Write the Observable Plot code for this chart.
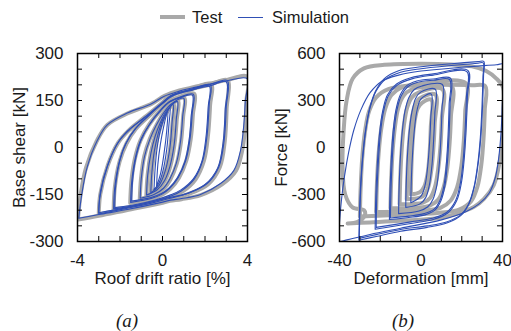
<!DOCTYPE html>
<html><head><meta charset="utf-8">
<script src="https://cdn.jsdelivr.net/npm/d3@7"></script>
<script src="https://cdn.jsdelivr.net/npm/@observablehq/plot@0.6"></script>
<style>
body{margin:0;background:#fff;font-family:"Liberation Sans",Arial,sans-serif;}
#wrap{position:relative;width:511px;height:331px;overflow:hidden;background:#fff;}
.abs{position:absolute;}
.lg{font-size:16.5px;line-height:18px;color:#1a1a1a;white-space:nowrap;}
.cap{font-family:"Liberation Serif","Times New Roman",serif;font-style:italic;font-size:19px;line-height:22px;color:#1a1a1a;text-align:center;width:40px;}
</style></head>
<body>
<div id="wrap">
  <div class="abs" style="left:160px;top:15px;width:25px;height:4px;background:#a9a9a9"></div>
  <div class="abs lg" style="left:192px;top:8px">Test</div>
  <div class="abs" style="left:238px;top:16.5px;width:25px;height:1.3px;background:#2f4fb5"></div>
  <div class="abs lg" style="left:272px;top:8px">Simulation</div>
  <div class="abs" id="pa" style="left:0;top:30px"></div>
  <div class="abs" id="pb" style="left:256px;top:30px"></div>
  <div class="abs cap" style="left:107px;top:310px">(a)</div>
  <div class="abs cap" style="left:383px;top:310px">(b)</div>
</div>
<script>
// ---------- Panel (a): roof drift ratio [%] vs base shear [kN] ----------
const xTicksA = [-4, 0, 4];
const yTicksA = [-300, -150, 0, 150, 300];
const xMinorA = [-4, -3, -2, -1, 0, 1, 2, 3, 4];
const yMinorA = [-300, -250, -200, -150, -100, -50, 0, 50, 100, 150, 200, 250, 300];

// each loop: flat list of (drift, shear) pairs
const simA = [
  [-3.94,-226, -3.8,-150, -3.54,-62, -3.07,22, -2.6,72, -1.66,110, -0.56,138, 0.06,163, 0.8,180, 1.46,191, 3.0,212, 3.98,220,
   3.9,150, 3.83,75, 3.67,-10, 3.36,-73, 2.73,-115, 1.79,-150, 0.9,-163, 0.38,-168, -0.1,-176, -1.66,-198, -3.0,-214, -3.94,-226],
  [-3.0,-212, -2.95,-160, -2.6,-62, -2.13,12, -1.66,52, -0.88,94, -0.1,138, 0.38,165, 1.46,188, 2.2,200, 3.05,214,
   3.0,130, 2.9,22, 2.65,-62, 2.1,-115, 1.16,-147, 0.38,-162, -0.42,-176, -1.66,-194, -3.0,-212],
  [-3.0,-208, -2.92,-140, -2.55,-50, -2.05,20, -1.5,60, -0.8,98, 0,140, 0.45,166, 1.5,186, 2.3,198, 3.0,210,
   2.95,120, 2.85,15, 2.6,-65, 2.0,-118, 1.1,-148, 0.3,-160, -0.5,-174, -1.7,-192, -3.0,-208],
  [-2.3,-196, -2.25,-130, -2.05,-50, -1.75,10, -1.3,58, -0.6,105, 0.1,148, 0.5,168, 1.3,184, 2.25,200,
   2.2,140, 2.1,40, 1.9,-40, 1.5,-100, 0.9,-138, 0.4,-155, -0.3,-170, -1.2,-184, -2.3,-196],
  [-2.25,-192, -2.2,-120, -2.0,-40, -1.7,15, -1.25,62, -0.55,108, 0.15,150, 0.6,168, 1.4,183, 2.2,196,
   2.15,130, 2.05,35, 1.85,-45, 1.45,-100, 0.85,-136, 0.35,-152, -0.35,-168, -1.25,-182, -2.25,-192],
  [-1.5,-175, -1.45,-110, -1.3,-40, -1.05,20, -0.65,70, -0.15,115, 0.3,145, 0.8,160, 1.45,170,
   1.4,110, 1.3,30, 1.1,-40, 0.75,-95, 0.35,-130, 0,-148, -0.5,-162, -1.5,-175],
  [-1.45,-171, -1.4,-100, -1.25,-32, -1.0,25, -0.6,74, -0.1,117, 0.35,146, 0.85,160, 1.4,167,
   1.35,100, 1.25,22, 1.05,-45, 0.7,-97, 0.3,-130, -0.05,-147, -0.55,-160, -1.45,-171],
  [-1.05,-162, -1.0,-100, -0.85,-30, -0.6,25, -0.3,70, 0.05,110, 0.4,138, 1.0,157,
   0.95,100, 0.85,20, 0.65,-50, 0.35,-100, 0.05,-130, -0.4,-150, -1.05,-162],
  [-0.75,-152, -0.7,-90, -0.55,-20, -0.35,35, -0.1,80, 0.2,118, 0.7,147,
   0.65,90, 0.55,10, 0.35,-60, 0.1,-105, -0.25,-135, -0.75,-152],
  [-0.55,-145, -0.5,-80, -0.38,-10, -0.2,45, 0.05,95, 0.5,137,
   0.45,80, 0.35,0, 0.15,-70, -0.15,-120, -0.55,-145],
  [-0.4,-135, -0.35,-70, -0.25,0, -0.08,60, 0.12,100, 0.35,128,
   0.3,70, 0.2,-5, 0.02,-75, -0.18,-115, -0.4,-135],
  [-0.28,-125, -0.22,-55, -0.1,10, 0.05,65, 0.25,118,
   0.2,55, 0.08,-15, -0.08,-80, -0.28,-125]
];
const testA = [
  [-3.98,-230, -3.85,-150, -3.6,-65, -3.1,20, -2.6,72, -1.6,110, -0.5,140, 0.1,165, 0.8,182, 1.5,193, 3.0,215, 4.0,226,
   3.95,150, 3.9,75, 3.75,-10, 3.45,-75, 2.8,-118, 1.8,-152, 0.9,-165, 0.35,-170, -0.1,-178, -1.7,-200, -3.0,-218, -3.98,-230],
  [-3.0,-214, -2.93,-150, -2.58,-58, -2.1,14, -1.6,54, -0.85,96, -0.05,140, 0.4,166, 1.5,189, 2.25,201, 3.05,215,
   3.02,125, 2.93,20, 2.7,-62, 2.15,-117, 1.2,-149, 0.4,-164, -0.45,-178, -1.7,-196, -3.0,-214],
  [-2.3,-198, -2.24,-125, -2.02,-45, -1.7,12, -1.25,60, -0.55,106, 0.12,150, 0.55,170, 1.35,186, 2.28,202,
   2.24,135, 2.14,38, 1.95,-42, 1.55,-102, 0.95,-140, 0.42,-157, -0.3,-172, -1.2,-186, -2.3,-198],
  [-1.52,-177, -1.46,-105, -1.3,-36, -1.04,22, -0.64,72, -0.12,117, 0.32,147, 0.82,162, 1.48,172,
   1.43,105, 1.33,28, 1.12,-42, 0.77,-97, 0.37,-132, 0,-150, -0.5,-164, -1.52,-177],
  [-1.07,-164, -1.01,-98, -0.86,-28, -0.6,27, -0.28,72, 0.07,112, 0.42,140, 1.02,158,
   0.97,98, 0.87,18, 0.67,-52, 0.37,-102, 0.06,-132, -0.4,-152, -1.07,-164],
  [-0.76,-154, -0.7,-88, -0.55,-18, -0.34,37, -0.08,82, 0.22,120, 0.72,149,
   0.67,88, 0.56,8, 0.36,-62, 0.1,-107, -0.25,-137, -0.76,-154],
  [-0.56,-146, -0.5,-78, -0.37,-8, -0.18,47, 0.07,97, 0.52,139,
   0.47,78, 0.36,-2, 0.16,-72, -0.14,-122, -0.56,-146]
];

// ---------- Panel (b): deformation [mm] vs force [kN] ----------
const xTicksB = [-40, 0, 40];
const yTicksB = [-600, -300, 0, 300, 600];
const xMinorB = [-40, -30, -20, -10, 0, 10, 20, 30, 40];
const yMinorB = [-600, -500, -400, -300, -200, -100, 0, 100, 200, 300, 400, 500, 600];

const simB = [
  [-40.5,-602, -40,-480, -39,-330, -37.5,-180, -35.5,-30, -33,110, -29.5,240, -25,350, -19,425, -11,462, 0,488, 20,512, 37,528, 40.5,532,
   40.4,470, 40,300, 39.3,100, 38.2,-60, 36.5,-190, 33.5,-290, 28.5,-360, 22,-410, 10,-462, -10,-515, -25,-555, -38,-595, -40.5,-602],
  [-30.5,-592, -30.2,-420, -29.6,-230, -28.6,-50, -27.2,110, -25.2,250, -22.3,360, -18,440, -11,490, 0,515, 15,535, 28,548, 30.8,550,
   30.7,460, 30.2,260, 29.4,70, 28.1,-100, 26.2,-250, 23.5,-360, 19.5,-435, 13,-480, 3,-510, -10,-535, -22,-568, -30.5,-592],
  [-30.3,-580, -30,-410, -29.4,-220, -28.4,-40, -27,120, -25,255, -22,360, -17.5,435, -10,480, 0,503, 15,523, 28,538, 30.5,540,
   30.4,450, 29.9,250, 29.1,60, 27.8,-110, 25.9,-258, 23.2,-365, 19,-435, 12.5,-475, 3,-500, -10,-523, -22,-556, -30.3,-580],
  [-22.5,-522, -22.2,-320, -21.5,-120, -20.5,70, -19,220, -16.5,335, -12,405, -5,445, 6,470, 23,492,
   22.8,330, 22.2,130, 21.3,-60, 19.9,-220, 17.5,-340, 13,-420, 6,-460, -5,-485, -22.5,-522],
  [-22,-510, -21.7,-310, -21,-110, -20,75, -18.5,222, -16,332, -11.5,400, -4.5,438, 6,462, 22.5,484,
   22.3,325, 21.7,125, 20.8,-65, 19.4,-222, 17,-338, 12.5,-415, 5.5,-452, -5,-475, -22,-510],
  [-15.5,-460, -15.2,-270, -14.6,-80, -13.7,100, -12.3,240, -10.2,335, -7,395, -2,425, 6,437, 14.5,442,
   14.3,280, 13.8,90, 13,-90, 11.8,-240, 9.8,-340, 6.8,-400, 2,-430, -6,-447, -15.5,-460],
  [-15,-450, -14.7,-260, -14.1,-75, -13.2,100, -11.8,238, -9.7,330, -6.5,388, -1.5,417, 6,429, 14,434,
   13.8,275, 13.3,85, 12.5,-95, 11.3,-240, 9.3,-338, 6.3,-395, 1.5,-422, -6,-438, -15,-450],
  [-11,-422, -10.7,-240, -10.1,-60, -9.2,100, -7.9,230, -6,318, -3.3,370, 0.5,393, 10.5,402,
   10.3,250, 9.8,70, 9,-100, 7.8,-240, 5.9,-330, 3.2,-380, -1,-405, -11,-422],
  [-7.5,-382, -7.2,-210, -6.6,-40, -5.7,110, -4.4,230, -2.6,315, 0,355, 7,372,
   6.8,220, 6.2,50, 5.4,-110, 4.1,-240, 2.3,-320, -0.5,-360, -7.5,-382],
  [-5,-352, -4.7,-190, -4.1,-30, -3.2,120, -1.9,240, 0,310, 5,342,
   4.8,190, 4.2,30, 3.3,-120, 2,-240, 0,-310, -5,-352]
];
const testB = [
  [-36,-485, -31,-474, -27.5,-430, -28,-400, -33.6,-382, -37.2,-300, -38.5,-120, -38,100, -36.5,300, -33.5,440, -28,505, -18,528, 0,535, 15,530, 25,518, 32,488, 37,440, 40.3,383,
   40.5,250, 40.3,89, 38.5,-100, 35.7,-240, 30.8,-330, 26,-379, 18,-420, 9.6,-448, -10,-468, -25,-478, -36,-485],
  [-30,-440, -29.6,-250, -28.8,-60, -27.5,100, -25.5,230, -22,320, -16,372, -6,395, 10,400, 25,398, 31.5,392,
   31.3,240, 30.7,60, 29.6,-110, 27.7,-250, 24.5,-345, 19,-395, 8,-418, -10,-430, -30,-440],
  [-22,-412, -21.6,-220, -20.8,-40, -19.5,120, -17.5,250, -14.5,335, -9.5,383, -2,402, 22,410,
   21.7,230, 21,40, 19.8,-120, 17.7,-255, 14.5,-340, 9.5,-385, 1,-402, -22,-412],
  [-15,-388, -14.6,-200, -13.9,-20, -12.8,130, -11.2,250, -8.6,330, -4.5,372, 2,387, 15,392,
   14.7,200, 14,20, 12.9,-130, 11.2,-250, 8.6,-330, 4.5,-370, -2,-384, -15,-388],
  [-10.5,-362, -10.1,-170, -9.4,0, -8.4,140, -6.8,255, -4.5,320, -1,352, 10.5,372,
   10.2,180, 9.5,0, 8.4,-140, 6.8,-255, 4.5,-322, 1,-352, -10.5,-362],
  [-7,-330, -6.6,-140, -5.9,20, -4.8,160, -3.2,260, -0.8,312, 7,338,
   6.7,150, 6,-20, 4.9,-160, 3.3,-262, 0.8,-312, -7,-330],
  [-5,-300, -4.7,-120, -4.1,40, -3.1,170, -1.6,250, 0.5,285, 5,305,
   4.8,130, 4.2,-40, 3.2,-170, 1.6,-250, -0.5,-285, -5,-300]
];

const TEST_COLOR = "#a9a9a9", SIM_COLOR = "#2f4fb5";

function rows(loops, tag) {
  const out = [];
  loops.forEach((L, i) => { for (let j = 0; j < L.length; j += 2) out.push({loop: tag + i, x: L[j], y: L[j + 1]}); });
  return out;
}

function panel({sims, tests, xDomain, yDomain, xTicks, yTicks, xMinor, yMinor, xLabel, yLabel, marginLeft, marginRight, labelOffsetY}) {
  const W = 255, H = 275, mt = 23, mb = 64;
  const pw = W - marginLeft - marginRight, ph = H - mt - mb;
  return Plot.plot({
    width: W, height: H, marginTop: mt, marginBottom: mb, marginLeft, marginRight,
    style: {fontFamily: "'Liberation Sans', Arial, sans-serif", fontSize: "17px", color: "#1a1a1a", background: "transparent", overflow: "visible"},
    x: {domain: xDomain},
    y: {domain: yDomain},
    marks: [
      Plot.line(rows(tests, "t"), {x: "x", y: "y", z: "loop", curve: "catmull-rom", stroke: TEST_COLOR, strokeWidth: 4, clip: true}),
      Plot.line(rows(sims, "s"), {x: "x", y: "y", z: "loop", curve: "catmull-rom", stroke: SIM_COLOR, strokeWidth: 1.1, clip: true}),
      Plot.tickX(xMinor, {x: d => d, insetTop: ph - 5, stroke: "#000"}),
      Plot.tickX(xMinor, {x: d => d, insetBottom: ph - 5, stroke: "#000"}),
      Plot.tickY(yMinor, {y: d => d, insetRight: pw - 5, stroke: "#000"}),
      Plot.tickY(yMinor, {y: d => d, insetLeft: pw - 5, stroke: "#000"}),
      Plot.axisX(xTicks, {tickSize: 0, tickPadding: 12, tickFormat: d => String(d), label: xLabel, labelAnchor: "center", labelOffset: 42, labelArrow: "none"}),
      Plot.axisY(yTicks, {tickSize: 0, tickPadding: 14, tickFormat: d => String(d), label: yLabel, labelAnchor: "center", labelOffset: labelOffsetY, labelArrow: "none"}),
      Plot.frame({stroke: "#000", strokeWidth: 1.5})
    ]
  });
}

document.getElementById("pa").append(panel({
  sims: simA, tests: testA, xDomain: [-4, 4], yDomain: [-300, 300],
  xTicks: xTicksA, yTicks: yTicksA, xMinor: xMinorA, yMinor: yMinorA,
  xLabel: "Roof drift ratio [%]", yLabel: "Base shear [kN]", marginLeft: 77, marginRight: 8, labelOffsetY: 65
}));
document.getElementById("pb").append(panel({
  sims: simB, tests: testB, xDomain: [-40, 40], yDomain: [-600, 600],
  xTicks: xTicksB, yTicks: yTicksB, xMinor: xMinorB, yMinor: yMinorB,
  xLabel: "Deformation [mm]", yLabel: "Force [kN]", marginLeft: 83, marginRight: 9, labelOffsetY: 65
}));
</script>
</body></html>
